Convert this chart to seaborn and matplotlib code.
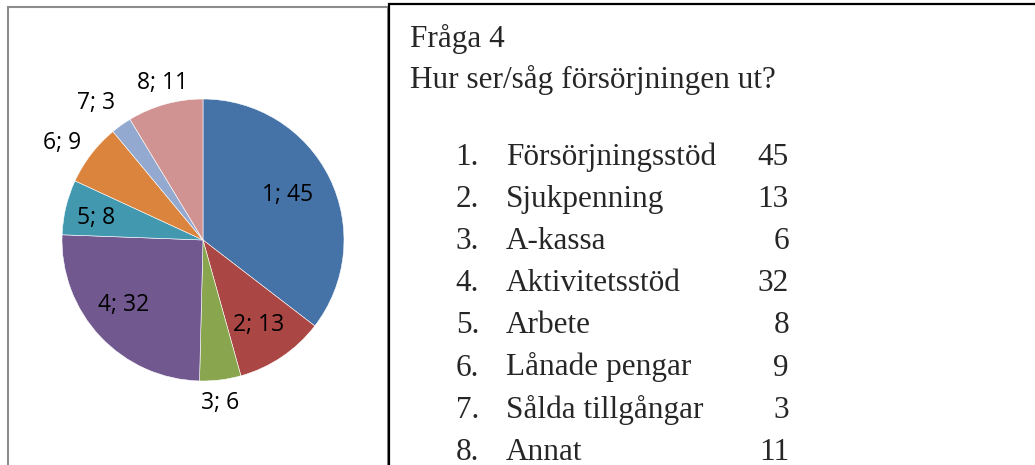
import numpy as np
import matplotlib
matplotlib.use("Agg")
import matplotlib.pyplot as plt
import seaborn as sns
from matplotlib.patches import Rectangle

# ---- data ----
slice_ids = [1, 2, 3, 4, 5, 6, 7, 8]
values = [45, 13, 6, 32, 8, 9, 3, 11]
categories = ["Försörjningsstöd", "Sjukpenning", "A-kassa", "Aktivitetsstöd",
              "Arbete", "Lånade pengar", "Sålda tillgångar", "Annat"]
title_lines = ["Fråga 4", "Hur ser/såg försörjningen ut?"]

# ---- style ----
colors = ["#4572A7", "#AA4643", "#89A54E", "#71588F",
          "#4198AF", "#DB843D", "#93A9CF", "#D19392"]
label_dist = [0.68, 0.72, 1.16, 0.73, 0.775, 1.21, 1.23, 1.15]
label_rot = [1.7, -1.1, -1.1, -3.8, 1.8, 3.0, 2.6, -1.0]  # degrees

sns.set_theme(style="white")
plt.rcParams['font.family'] = ['Open Sans', 'DejaVu Sans']

W, H = 1035, 465
fig = plt.figure(figsize=(W / 100, H / 100), dpi=100)
fig.patch.set_facecolor("white")

def fx(px):
    return px / W

def fy(py):
    return 1 - py / H

# frames
fig.add_artist(Rectangle((fx(7.5), fy(500)), fx(388 - 7.5), (500 - 7.5) / H,
                         transform=fig.transFigure, fill=False,
                         edgecolor="#8c8c8c", linewidth=1.5))
fig.add_artist(Rectangle((fx(388.5), fy(500)), fx(1100 - 388.5), (500 - 4.5) / H,
                         transform=fig.transFigure, fill=False,
                         edgecolor="black", linewidth=1.6))

# pie axes: center (203,240) px, radius 141 px
cx, cy, R, half = 203, 240, 141, 200
ax = fig.add_axes([fx(cx - half), fy(cy + half), 2 * half / W, 2 * half / H])
ax.set_facecolor("none")
wedges, _ = ax.pie(values, colors=colors, startangle=90, counterclock=False,
                   radius=1, wedgeprops=dict(edgecolor="white", linewidth=0.4))
lim = half / R
ax.set_xlim(-lim, lim)
ax.set_ylim(-lim, lim)
ax.set_aspect("equal")
ax.axis("off")

for w, sid, v, d, rot in zip(wedges, slice_ids, values, label_dist, label_rot):
    mid = np.deg2rad((w.theta1 + w.theta2) / 2 + rot)
    ax.text(d * np.cos(mid), d * np.sin(mid), f"{sid}; {v}",
            ha="center", va="center", fontsize=16.5, color="black")

# text box on the right
serif = ["Liberation Serif", "DejaVu Serif"]
fs = 22.5
fig.text(fx(410), fy(47), title_lines[0], family=serif, fontsize=fs,
         ha="left", va="baseline")
fig.text(fx(410), fy(88), title_lines[1], family=serif, fontsize=fs,
         ha="left", va="baseline")
y0, dy = 165, 42.1
for i, (sid, cat, v) in enumerate(zip(slice_ids, categories, values)):
    yb = y0 + i * dy
    fig.text(fx(479), fy(yb), f"{sid}.", family=serif, fontsize=fs,
             ha="right", va="baseline")
    fig.text(fx(506), fy(yb), cat, family=serif, fontsize=fs,
             ha="left", va="baseline")
    fig.text(fx(789), fy(yb), f"{v}", family=serif, fontsize=fs,
             ha="right", va="baseline")

fig.savefig("out.png", dpi=100)
